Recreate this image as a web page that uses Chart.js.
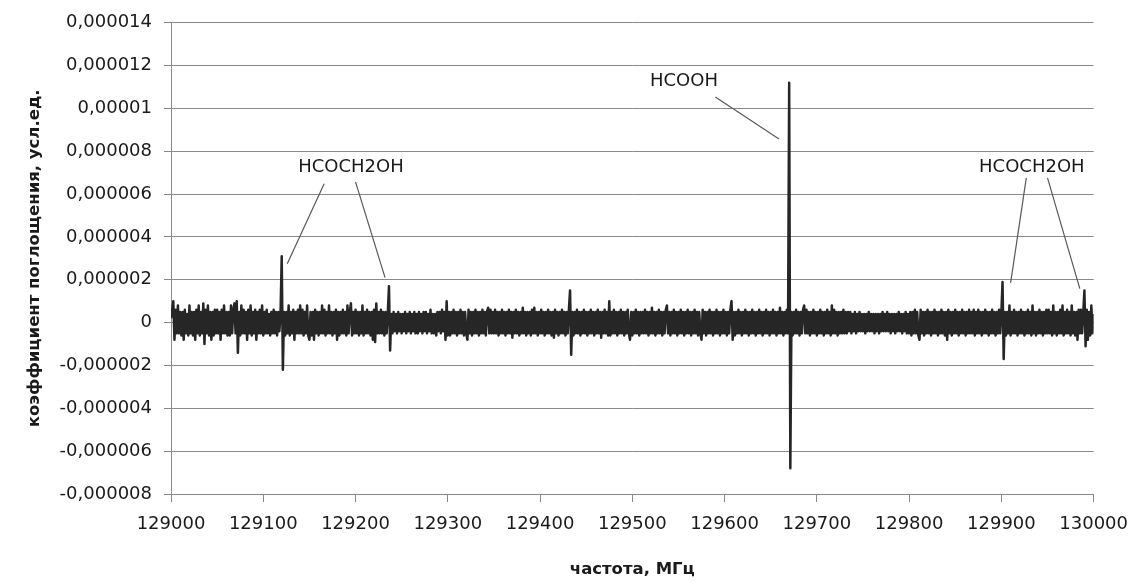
<!DOCTYPE html>
<html>
<head>
<meta charset="utf-8">
<script src="https://cdn.jsdelivr.net/npm/chart.js@4.4.1/dist/chart.umd.min.js"></script>
<style>
  html, body { margin: 0; padding: 0; background: #ffffff; }
  #wrap { width: 1140px; height: 582px; }
</style>
</head>
<body>
<div id="wrap"><canvas id="spectrumChart" width="1140" height="582"></canvas></div>
<script>
// частотная сетка спектра, МГц
const freqStart = 129000;
const freqStep = 1.25;

// коэффициент поглощения, в единицах 1e-7 (40 точек = 50 МГц в строке)
const unit = 1e-7;
const absorption = [
  2, 6, 10, -8, 6, -5, 8, -5, 5, -6,  5, -8, 6, -5, 4, -6, 8, -5, 5, -6,  5, -8, 6, -5, 8, -6, 5, -5, 9, -10,  6, -5, 8, -6, 5, -8, 5, -6, 6, -5,
  6, -5, 5, -8, 6, -5, 8, -5, 5, -6,  5, -6, 8, -5, 6, 9, -5, 10, -14, 5,  -6, 8, -5, 6, -5, 5, -8, 6, -5, 8,  -6, 5, -5, 6, -8, 5, -5, 6, -5, 8,
  -6, 5, -5, 6, -5, 4, -6, 5, -5, 6,  -5, 5, -6, 5, -4, 5, 31, -22, 5, -6,  5, -5, 8, -6, 5, -5, 6, -8, 5, -5,  6, -5, 8, -5, 6, -6, 5, -5, 8, -6,
  -8, 5, -6, 5, -8, 6, -5, 5, -6, 5,  -5, 8, -5, 6, -6, 5, -5, 8, -5, 5,  -6, 5, -5, 6, -8, 5, -6, 5, -5, 6,  -5, 5, -6, 8, -5, 5, 9, -6, 5, -5,
  6, -5, 5, -6, 5, -5, 8, -6, 5, -5,  6, -5, 5, -6, 5, -8, 6, -9, 9, -5,  5, -5, 6, -5, 5, -6, 5, -5, 5, 17,  -13, 4, -5, 5, -4, 4, -5, 5, -4, 4,
  -5, 4, -4, 5, -5, 4, -4, 5, -5, 4,  -4, 5, -5, 4, -5, 5, -4, 4, -5, 5,  -4, 5, -5, 4, -4, 6, -5, 4, -5, 4,  -6, 5, -4, 5, -5, 6, -4, 5, -8, 10,
  -6, 5, -6, 5, -5, 6, -5, 5, -6, 5,  -5, 6, -5, 5, -6, 5, -5, -8, 6, -5,  5, -6, 5, -5, 6, -5, 5, -6, 5, -5,  6, -5, 5, -6, 5, 7, -5, 6, -5, 5,
  -5, 6, -5, 5, -6, 5, -5, 6, -5, 5,  -6, 5, -5, 6, -5, 5, -7, 5, -5, 6,  -5, 5, -6, 5, -5, 7, -5, 5, -6, 5,  -5, 5, -6, 6, -5, 7, -5, 5, -6, 5,
  -5, 6, -5, 5, -6, 5, -5, 6, -5, 5,  -6, 5, -7, 6, -5, 5, -6, 5, -5, 6,  -5, 5, -6, 5, -5, 6, 15, -15, 5, -6,  5, -5, 6, -5, 5, -6, 5, -5, 6, -5,
  5, -6, 5, -5, 6, -5, 5, -6, 5, -5,  6, -5, 5, -7, 5, -5, 6, -5, 5, -6,  10, -6, 5, -5, 6, -5, 5, -6, 5, -5,  6, -5, 5, -6, 5, -5, 6, -5, -8, 5,
  -6, 5, -5, 6, -5, 5, -6, 5, -5, 5,  -5, 6, -5, 5, -6, 5, -5, 7, -5, 5,  -6, 5, -5, 6, -5, 5, -6, 5, -5, 6,  8, -5, 5, -6, 5, -5, 6, -5, 5, -6,
  5, -5, 6, -5, 5, -6, 5, -5, 6, -5,  5, -6, 5, -5, 6, -5, 5, -6, 5, -5,  -8, 6, -5, 5, -6, 5, -5, 6, -5, 5,  -6, 5, -5, 6, -5, 5, -6, 5, -5, 6,
  -5, 5, -6, 5, -5, 6, 10, -8, 5, -6,  5, -5, 6, -5, 5, -6, 5, -5, 6, -5,  5, -6, 5, -5, 6, -5, 5, -6, 5, -5,  6, -5, 5, -6, 5, -5, 6, -5, 5, -6,
  5, -5, 6, -5, 5, -6, 5, -5, 7, -5,  5, -6, 5, -5, 6, -5, 112, -68, 5, -6,  5, -5, 6, -5, 5, -6, 5, -5, 6, 8,  -5, 6, -5, 5, -6, 5, -5, 6, -5, 5,
  -6, 5, -5, 6, -5, 5, -6, 5, -5, 6,  -5, 5, -6, 8, -5, 6, -5, 5, -6, 5,  -5, 5, -5, 6, -5, 5, -5, 5, -4, 5,  -5, 4, -4, 5, -5, 4, -4, 5, -4, 4,
  -4, 4, -5, 4, -4, 5, -4, 4, -4, 4,  -5, 4, -4, 4, -5, 4, -4, 5, -4, 4,  -4, 5, -4, 4, -5, 4, -4, 4, -5, 4,  -4, 5, -4, 4, -5, 4, -4, 5, -5, 4,
  -5, 5, -6, 5, -5, 6, -5, 5, -6, -8,  6, -5, 5, -6, 5, -5, 6, -5, 5, -6,  5, -5, 6, -5, 5, -6, 5, -5, 6, -5,  5, -6, 5, -8, 6, -5, 5, -6, 5, -5,
  6, -5, 5, -6, 5, -5, 6, -5, 5, -6,  5, -5, 6, -5, 5, -5, 6, -6, 5, -5,  6, -5, 5, -6, 5, -5, 6, -5, 5, -6,  5, -5, 6, -5, 5, -6, 5, -5, 6, -5,
  5, 19, -17, 5, -6, 5, -5, 8, -6, 5,  -5, 6, -5, 5, -6, 5, -5, 6, -5, 5,  -6, 5, -5, 6, -5, 5, -6, 8, -5, 5,  -6, 5, -5, 6, -5, 5, -6, 5, -5, 6,
  -5, 6, -5, 5, -6, 8, -5, 5, -6, 5,  -5, 6, -5, 8, -6, 5, -5, 6, -5, 5,  -6, 8, -5, 5, -6, 5, -8, 6, -5, 6,  -5, 5, 15, -11, 6, -8, 5, -6, 8, -5,
  4
];

// подписи линий: текст, позиция текста и выноски (частота, значение)
const annotations = [
  { text: 'HCOOH', f: 129556, v: 11.25e-6,
    lines: [[129590, 10.54e-6, 129659, 8.58e-6]] },
  { text: 'HCOCH2OH', f: 129195, v: 7.23e-6,
    lines: [[129166, 6.48e-6, 129126, 2.75e-6], [129200, 6.57e-6, 129232, 2.10e-6]] },
  { text: 'HCOCH2OH', f: 129933, v: 7.27e-6,
    lines: [[129927, 6.76e-6, 129910, 1.86e-6], [129950, 6.76e-6, 129985, 1.59e-6]] }
];

const points = absorption.map((a, i) => ({ x: freqStart + i * freqStep, y: a * unit }));

const gridGray = '#8a8a8a';
const textFont = 'DejaVu Sans';

const annotationPlugin = {
  id: 'spectrumLabels',
  afterDraw(chart) {
    const ctx = chart.ctx;
    const xs = chart.scales.x;
    const ys = chart.scales.y;
    ctx.save();
    // выноски
    ctx.strokeStyle = '#595959';
    ctx.lineWidth = 1.2;
    annotations.forEach(a => {
      a.lines.forEach(l => {
        ctx.beginPath();
        ctx.moveTo(xs.getPixelForValue(l[0]), ys.getPixelForValue(l[1]));
        ctx.lineTo(xs.getPixelForValue(l[2]), ys.getPixelForValue(l[3]));
        ctx.stroke();
      });
      ctx.fillStyle = '#1a1a1a';
      ctx.font = '18px "' + textFont + '"';
      ctx.textAlign = 'center';
      ctx.textBaseline = 'middle';
      ctx.fillText(a.text, xs.getPixelForValue(a.f), ys.getPixelForValue(a.v));
    });
    // подписи осей
    ctx.fillStyle = '#1a1a1a';
    ctx.font = 'bold 16.5px "' + textFont + '"';
    ctx.textAlign = 'center';
    ctx.textBaseline = 'middle';
    ctx.fillText('частота, МГц', (chart.chartArea.left + chart.chartArea.right) / 2, 570);
    ctx.translate(35, (chart.chartArea.top + chart.chartArea.bottom) / 2);
    ctx.rotate(-Math.PI / 2);
    ctx.fillText('коэффициент поглощения, усл.ед.', 0, 0);
    ctx.restore();
  }
};

function formatValue(v) {
  const n = Number(v.toFixed(7));
  return String(n).replace('.', ',');
}

const spectrumChart = new Chart(
  document.getElementById('spectrumChart'),
  {
    type: 'line',
    data: {
      datasets: [{
        data: points,
        borderColor: '#262626',
        borderWidth: 2.5,
        borderJoinStyle: 'round',
        pointRadius: 0,
        tension: 0,
        fill: false
      }]
    },
    options: {
      responsive: false,
      animation: false,
      events: [],
      parsing: false,
      layout: {
        padding: { left: 0, right: 40, top: 22, bottom: 0 }
      },
      plugins: {
        legend: { display: false },
        tooltip: { enabled: false }
      },
      scales: {
        x: {
          type: 'linear',
          min: 129000,
          max: 130000,
          afterFit: scale => { scale.height = 88; },
          border: { display: true, color: gridGray, width: 1 },
          grid: { drawOnChartArea: false, drawTicks: true, tickLength: 8, color: gridGray },
          ticks: {
            stepSize: 100,
            padding: 12,
            color: '#1a1a1a',
            font: { family: textFont, size: 18 },
            maxRotation: 0,
            callback: v => String(v)
          }
        },
        y: {
          min: -0.000008,
          max: 0.000014,
          afterFit: scale => { scale.width = 171; },
          border: { display: true, color: gridGray, width: 1 },
          grid: { color: gridGray, lineWidth: 1, tickLength: 7 },
          ticks: {
            stepSize: 0.000002,
            padding: 12,
            color: '#1a1a1a',
            font: { family: textFont, size: 18 },
            callback: v => formatValue(v)
          }
        }
      }
    },
    plugins: [annotationPlugin]
  }
);
</script>
</body>
</html>
